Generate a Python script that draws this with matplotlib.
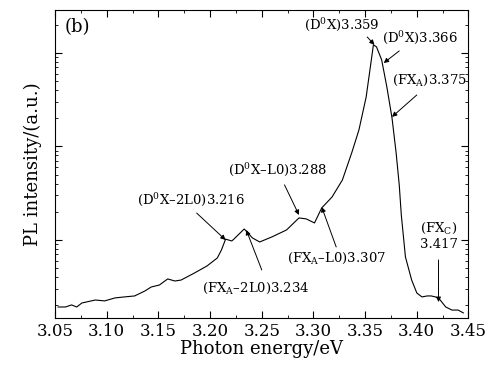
import numpy as np
import matplotlib
matplotlib.use('Agg')
import matplotlib.pyplot as plt
from matplotlib.ticker import MultipleLocator, LogLocator, NullFormatter

plt.rcParams['font.family'] = 'DejaVu Serif'
plt.rcParams['mathtext.fontset'] = 'dejavuserif'

# photon energy (eV) and PL intensity (a.u., log scale)
energy = [3.053, 3.060, 3.066, 3.071, 3.076, 3.089, 3.098, 3.108, 3.117, 3.127,
          3.137, 3.143, 3.151, 3.159, 3.166, 3.172, 3.185, 3.197, 3.207, 3.211,
          3.215, 3.221, 3.223, 3.233, 3.241, 3.248, 3.260, 3.274, 3.286, 3.293,
          3.301, 3.308, 3.318, 3.328, 3.337, 3.344, 3.351, 3.356, 3.358, 3.361,
          3.366, 3.371, 3.376, 3.380, 3.383, 3.385, 3.389, 3.395, 3.400, 3.405,
          3.410, 3.414, 3.418, 3.421, 3.428, 3.434, 3.440, 3.445]
intensity = [0.192, 0.192, 0.202, 0.192, 0.212, 0.228, 0.223, 0.240, 0.246, 0.252,
             0.285, 0.314, 0.330, 0.383, 0.364, 0.373, 0.444, 0.527, 0.642, 0.782,
             1.02, 0.976, 1.02, 1.31, 1.05, 0.952, 1.08, 1.28, 1.72, 1.68,
             1.52, 2.20, 2.88, 4.38, 8.52, 15.0, 33.8, 84.2, 122, 116,
             84.2, 43.3, 20.2, 8.52, 3.88, 1.85, 0.658, 0.373, 0.271, 0.246,
             0.252, 0.252, 0.246, 0.240, 0.192, 0.178, 0.178, 0.166]

# peak labels: text, text position (left x, centre y), arrow tip, arrow tail
labels = [r'(D$^0$X)3.359', r'(D$^0$X)3.366', r'(FX$_{\rm A}$)3.375',
          r'(D$^0$X–2L0)3.216', r'(FX$_{\rm A}$–2L0)3.234',
          r'(D$^0$X–L0)3.288', r'(FX$_{\rm A}$–L0)3.307', '(FX$_{\\rm C}$)\n3.417']
text_xy = [(3.291, 199), (3.366, 145), (3.376, 51.4),
           (3.129, 2.68), (3.192, 0.307), (3.217, 5.61), (3.274, 0.642), (3.421, 1.10)]
tip_xy = [(3.359, 122), (3.368, 78), (3.376, 20.7),
          (3.215, 1.0), (3.235, 1.28), (3.286, 1.85), (3.308, 2.25), (3.421, 0.217)]
src_xy = [(3.352, 148), (3.383, 105), (3.400, 35.5),
          (3.187, 1.94), (3.250, 0.478), (3.272, 3.88), (3.322, 0.842), (3.421, 0.611)]

fig = plt.figure(figsize=(4.87, 3.68), dpi=100)
ax = fig.add_axes([0.113, 0.136, 0.849, 0.837])

ax.plot(energy, intensity, color='k', lw=0.8)
ax.set_yscale('log')
ax.set_xlim(3.05, 3.45)
ax.set_ylim(0.1466, 288)

ax.xaxis.set_major_locator(MultipleLocator(0.05))
ax.xaxis.set_minor_locator(MultipleLocator(0.025))
ax.xaxis.set_major_formatter(matplotlib.ticker.FormatStrFormatter('%.2f'))
ax.yaxis.set_major_locator(LogLocator(base=10, numticks=10))
ax.yaxis.set_minor_locator(LogLocator(base=10, subs=np.arange(2, 10), numticks=10))
ax.yaxis.set_major_formatter(NullFormatter())
ax.yaxis.set_minor_formatter(NullFormatter())
ax.tick_params(which='both', direction='in', top=True, right=True, labelsize=12)
ax.tick_params(which='major', length=5)
ax.tick_params(which='minor', length=2.5)

ax.set_xlabel('Photon energy/eV', fontsize=13, labelpad=0)
ax.set_ylabel('PL intensity/(a.u.)', fontsize=13, labelpad=6)
ax.text(0.022, 0.975, '(b)', transform=ax.transAxes, fontsize=13, va='top')

for lab, t, tip, src in zip(labels, text_xy, tip_xy, src_xy):
    ax.text(t[0], t[1], lab, fontsize=9.5, ha='left' if '\n' not in lab else 'center',
            va='center', linespacing=1.25, clip_on=False)
    ax.annotate('', xy=tip, xytext=src,
                arrowprops=dict(arrowstyle='-|>', color='k', lw=0.7,
                                mutation_scale=7, shrinkA=0, shrinkB=0))

fig.savefig('out.png', dpi=100)
